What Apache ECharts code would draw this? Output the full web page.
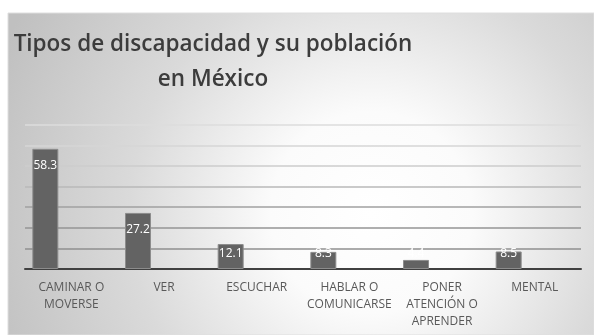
<!DOCTYPE html>
<html>
<head>
<meta charset="utf-8">
<script src="https://cdn.jsdelivr.net/npm/echarts@6/dist/echarts.min.js"></script>
<style>html,body{margin:0;padding:0;background:#fff}#c{width:594px;height:335px}</style>
</head>
<body>
<div id="c"></div>
<script>
const categories = ["CAMINAR O\nMOVERSE", "VER", "ESCUCHAR", "HABLAR O\nCOMUNICARSE", "PONER\nATENCIÓN O\nAPRENDER", "MENTAL"];
const values = [58.3, 27.2, 12.1, 8.3, 4.4, 8.5];
const emptySeries = [null, null, null, null, null, null];
const yTicks = [0, 10, 20, 30, 40, 50, 60, 70];

const chart = echarts.init(document.getElementById('c'), null, {renderer: 'canvas'});
const barData = values.map(v => ({
  value: v,
  label: v >= 20
    ? {position: 'insideTop', distance: 11}
    : {position: 'insideBottom', distance: 9}
}));
chart.setOption({
  animation: false,
  graphic: [{
    type: 'rect', z: -10, silent: true,
    shape: {x: 8, y: 13, width: 586, height: 322},
    style: {
      fill: new echarts.graphic.RadialGradient(0.62, 0.62, 1.25, [
        {offset: 0, color: '#ffffff'},
        {offset: 0.25, color: '#fbfbfb'},
        {offset: 0.6, color: '#dadada'},
        {offset: 1, color: '#c0c0c0'}
      ]),
      stroke: '#dedede', lineWidth: 1
    }
  }],
  title: {
    text: 'Tipos de discapacidad y su población\nen México',
    left: 208, top: 22, textAlign: 'center',
    textStyle: {fontFamily: 'Open Sans', fontWeight: 600, fontSize: 22.5, color: '#3c3c3c', lineHeight: 35}
  },
  grid: {left: 25, right: 13, top: 124.7, bottom: 66, containLabel: false},
  xAxis: {
    type: 'category', data: categories,
    axisLine: {lineStyle: {color: '#404040', width: 2}},
    axisTick: {show: false},
    axisLabel: {interval: 0, color: '#595959', fontSize: 12, lineHeight: 17, margin: 10, fontFamily: 'Open Sans'}
  },
  yAxis: {
    type: 'value', min: yTicks[0], max: yTicks[yTicks.length - 1], interval: 10,
    axisLabel: {show: false}, axisLine: {show: false}, axisTick: {show: false},
    splitLine: {lineStyle: {color: ['#808080', '#8f8f8f', '#959595', '#a0a0a0', '#b8b8b8', '#cdcdcd', '#d6d6d6', '#dcdcdc'], width: 1.5}}
  },
  series: [
    {type: 'bar', data: barData, barWidth: 26, barGap: '0%',
     itemStyle: {color: '#636363', borderColor: '#8c8c8c', borderWidth: 1},
     label: {show: true, color: '#ffffff', fontSize: 12, fontFamily: 'Open Sans'}},
    {type: 'bar', data: emptySeries, barWidth: 26, barGap: '0%'},
    {type: 'bar', data: emptySeries, barWidth: 26, barGap: '0%'}
  ]
});
</script>
</body>
</html>
